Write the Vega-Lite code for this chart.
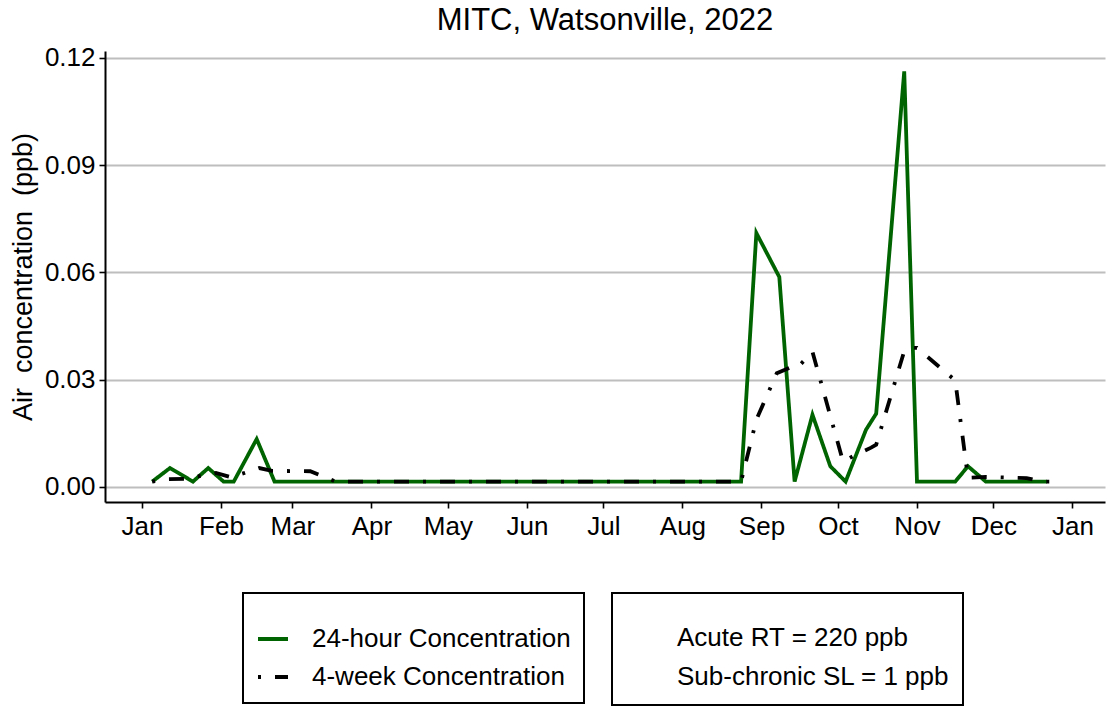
{
  "$schema": "https://vega.github.io/schema/vega-lite/v6.json",
  "width": 1000,
  "height": 451,
  "autosize": {"type": "none"},
  "padding": {"left": 105, "top": 51, "right": 1, "bottom": 206},
  "background": "white",
  "title": {
    "text": "MITC, Watsonville, 2022",
    "font": "Liberation Sans",
    "fontSize": 31,
    "fontWeight": "normal",
    "color": "black",
    "anchor": "middle",
    "baseline": "bottom",
    "offset": 12,
    "dy": 35
  },
  "config": {
    "view": {"stroke": null},
    "font": "Liberation Sans",
    "axis": {
      "labelFont": "Liberation Sans",
      "titleFont": "Liberation Sans",
      "labelColor": "black",
      "titleColor": "black",
      "domainColor": "black",
      "domainWidth": 2,
      "tickColor": "black",
      "tickWidth": 1.6,
      "tickSize": 6,
      "labelFontSize": 26,
      "titleFontSize": 27,
      "titleFontWeight": "normal"
    },
    "legend": {
      "labelFont": "Liberation Sans",
      "titleFont": "Liberation Sans",
      "strokeWidth": 2
    }
  },
  "datasets": {
    "conc": [
      {"date": "2022/01/05", "value": 0.0015, "series": "24-hour Concentration"},
      {"date": "2022/01/12", "value": 0.0053, "series": "24-hour Concentration"},
      {"date": "2022/01/21", "value": 0.0015, "series": "24-hour Concentration"},
      {"date": "2022/01/27", "value": 0.0053, "series": "24-hour Concentration"},
      {"date": "2022/02/02", "value": 0.0015, "series": "24-hour Concentration"},
      {"date": "2022/02/06", "value": 0.0015, "series": "24-hour Concentration"},
      {"date": "2022/02/15", "value": 0.0134, "series": "24-hour Concentration"},
      {"date": "2022/02/22", "value": 0.0015, "series": "24-hour Concentration"},
      {"date": "2022/03/22", "value": 0.0015, "series": "24-hour Concentration"},
      {"date": "2022/04/19", "value": 0.0015, "series": "24-hour Concentration"},
      {"date": "2022/05/17", "value": 0.0015, "series": "24-hour Concentration"},
      {"date": "2022/06/14", "value": 0.0015, "series": "24-hour Concentration"},
      {"date": "2022/07/12", "value": 0.0015, "series": "24-hour Concentration"},
      {"date": "2022/08/09", "value": 0.0015, "series": "24-hour Concentration"},
      {"date": "2022/08/24", "value": 0.0015, "series": "24-hour Concentration"},
      {"date": "2022/08/30", "value": 0.0710, "series": "24-hour Concentration"},
      {"date": "2022/09/08", "value": 0.0587, "series": "24-hour Concentration"},
      {"date": "2022/09/14", "value": 0.0015, "series": "24-hour Concentration"},
      {"date": "2022/09/21", "value": 0.0202, "series": "24-hour Concentration"},
      {"date": "2022/09/28", "value": 0.0058, "series": "24-hour Concentration"},
      {"date": "2022/10/04", "value": 0.0015, "series": "24-hour Concentration"},
      {"date": "2022/10/12", "value": 0.0160, "series": "24-hour Concentration"},
      {"date": "2022/10/16", "value": 0.0205, "series": "24-hour Concentration"},
      {"date": "2022/10/27", "value": 0.1162, "series": "24-hour Concentration"},
      {"date": "2022/11/01", "value": 0.0015, "series": "24-hour Concentration"},
      {"date": "2022/11/16", "value": 0.0015, "series": "24-hour Concentration"},
      {"date": "2022/11/21", "value": 0.0058, "series": "24-hour Concentration"},
      {"date": "2022/11/28", "value": 0.0015, "series": "24-hour Concentration"},
      {"date": "2022/12/22", "value": 0.0015, "series": "24-hour Concentration"},
      {"date": "2022/01/05", "value": 0.0015, "series": "4-week Concentration"},
      {"date": "2022/01/11", "value": 0.0022, "series": "4-week Concentration"},
      {"date": "2022/01/18", "value": 0.0023, "series": "4-week Concentration"},
      {"date": "2022/01/30", "value": 0.0039, "series": "4-week Concentration"},
      {"date": "2022/02/05", "value": 0.0027, "series": "4-week Concentration"},
      {"date": "2022/02/16", "value": 0.0053, "series": "4-week Concentration"},
      {"date": "2022/02/21", "value": 0.0045, "series": "4-week Concentration"},
      {"date": "2022/03/08", "value": 0.0044, "series": "4-week Concentration"},
      {"date": "2022/03/18", "value": 0.0015, "series": "4-week Concentration"},
      {"date": "2022/04/15", "value": 0.0015, "series": "4-week Concentration"},
      {"date": "2022/05/13", "value": 0.0015, "series": "4-week Concentration"},
      {"date": "2022/06/10", "value": 0.0015, "series": "4-week Concentration"},
      {"date": "2022/07/08", "value": 0.0015, "series": "4-week Concentration"},
      {"date": "2022/08/05", "value": 0.0015, "series": "4-week Concentration"},
      {"date": "2022/08/24", "value": 0.0015, "series": "4-week Concentration"},
      {"date": "2022/08/30", "value": 0.0188, "series": "4-week Concentration"},
      {"date": "2022/09/07", "value": 0.0318, "series": "4-week Concentration"},
      {"date": "2022/09/12", "value": 0.0333, "series": "4-week Concentration"},
      {"date": "2022/09/15", "value": 0.0333, "series": "4-week Concentration"},
      {"date": "2022/09/21", "value": 0.0378, "series": "4-week Concentration"},
      {"date": "2022/10/03", "value": 0.0071, "series": "4-week Concentration"},
      {"date": "2022/10/08", "value": 0.0090, "series": "4-week Concentration"},
      {"date": "2022/10/14", "value": 0.0110, "series": "4-week Concentration"},
      {"date": "2022/10/16", "value": 0.0118, "series": "4-week Concentration"},
      {"date": "2022/10/27", "value": 0.0380, "series": "4-week Concentration"},
      {"date": "2022/10/29", "value": 0.0389, "series": "4-week Concentration"},
      {"date": "2022/11/01", "value": 0.0389, "series": "4-week Concentration"},
      {"date": "2022/11/16", "value": 0.0298, "series": "4-week Concentration"},
      {"date": "2022/11/21", "value": 0.0026, "series": "4-week Concentration"},
      {"date": "2022/11/28", "value": 0.0028, "series": "4-week Concentration"},
      {"date": "2022/12/14", "value": 0.0025, "series": "4-week Concentration"},
      {"date": "2022/12/20", "value": 0.0015, "series": "4-week Concentration"},
      {"date": "2022/12/27", "value": 0.0015, "series": "4-week Concentration"}
    ],
    "ref": [
      {"date": "2022/07/01", "value": 220, "level": "Acute RT = 220 ppb"},
      {"date": "2022/07/01", "value": 1, "level": "Sub-chronic SL = 1 ppb"}
    ]
  },
  "layer": [
    {
      "data": {"name": "conc"},
      "mark": {"type": "line", "strokeWidth": 3.8, "clip": true},
      "encoding": {
        "x": {
          "field": "date",
          "type": "temporal",
          "scale": {"domain": [{"year": 2021, "month": 12, "date": 17, "hours": 12}, {"year": 2023, "month": 1, "date": 13, "hours": 18}]},
          "axis": {
            "title": null,
            "format": "%b",
            "tickCount": {"interval": "month", "step": 1},
            "grid": false,
            "labelPadding": 5,
            "labelFlush": false,
            "labelOverlap": false
          }
        },
        "y": {
          "field": "value",
          "type": "quantitative",
          "scale": {"domain": [-0.0042, 0.1219], "nice": false, "zero": false},
          "axis": {
            "title": "Air\u00a0 concentration\u00a0 (ppb)",
            "values": [0, 0.03, 0.06, 0.09, 0.12],
            "format": ".2f",
            "grid": true,
            "gridColor": "#bebebe",
            "gridWidth": 1.8,
            "labelPadding": 4,
            "titlePadding": 7
          }
        },
        "color": {
          "field": "series",
          "type": "nominal",
          "scale": {"domain": ["24-hour Concentration", "4-week Concentration"], "range": ["#006400", "#000000"]},
          "legend": {
            "orient": "none",
            "legendX": 138,
            "legendY": 542,
            "title": " ",
            "titleFontSize": 13,
            "titlePadding": 3,
            "strokeColor": "black",
            "padding": 13,
            "labelFontSize": 26,
            "labelLimit": 500,
            "labelColor": "black",
            "labelOffset": 22,
            "symbolType": "stroke",
            "symbolSize": 900,
            "symbolStrokeWidth": 3.8,
            "rowPadding": 8
          }
        },
        "strokeDash": {
          "field": "series",
          "type": "nominal",
          "scale": {"domain": ["24-hour Concentration", "4-week Concentration"], "range": [[1, 0], [3, 14, 15, 14]]},
          "legend": {
            "orient": "none",
            "legendX": 138,
            "legendY": 542,
            "title": " ",
            "titleFontSize": 13,
            "titlePadding": 3,
            "strokeColor": "black",
            "padding": 13,
            "labelFontSize": 26,
            "labelLimit": 500,
            "labelColor": "black",
            "labelOffset": 22,
            "symbolType": "stroke",
            "symbolSize": 900,
            "symbolStrokeWidth": 3.8,
            "rowPadding": 8
          }
        }
      }
    },
    {
      "data": {"name": "ref"},
      "mark": {"type": "point", "clip": true, "opacity": 0},
      "encoding": {
        "x": {"field": "date", "type": "temporal"},
        "y": {"field": "value", "type": "quantitative"},
        "shape": {
          "field": "level",
          "type": "nominal",
          "scale": {"domain": ["Acute RT = 220 ppb", "Sub-chronic SL = 1 ppb"], "range": ["circle", "circle"]},
          "legend": {
            "orient": "none",
            "legendX": 507,
            "legendY": 542,
            "title": " ",
            "titleFontSize": 13,
            "titlePadding": 3,
            "strokeColor": "black",
            "padding": 13,
            "labelFontSize": 26,
            "labelLimit": 500,
            "labelColor": "black",
            "labelOffset": 20,
            "symbolSize": 900,
            "symbolOpacity": 0,
            "rowPadding": 8
          }
        }
      }
    }
  ]
}
